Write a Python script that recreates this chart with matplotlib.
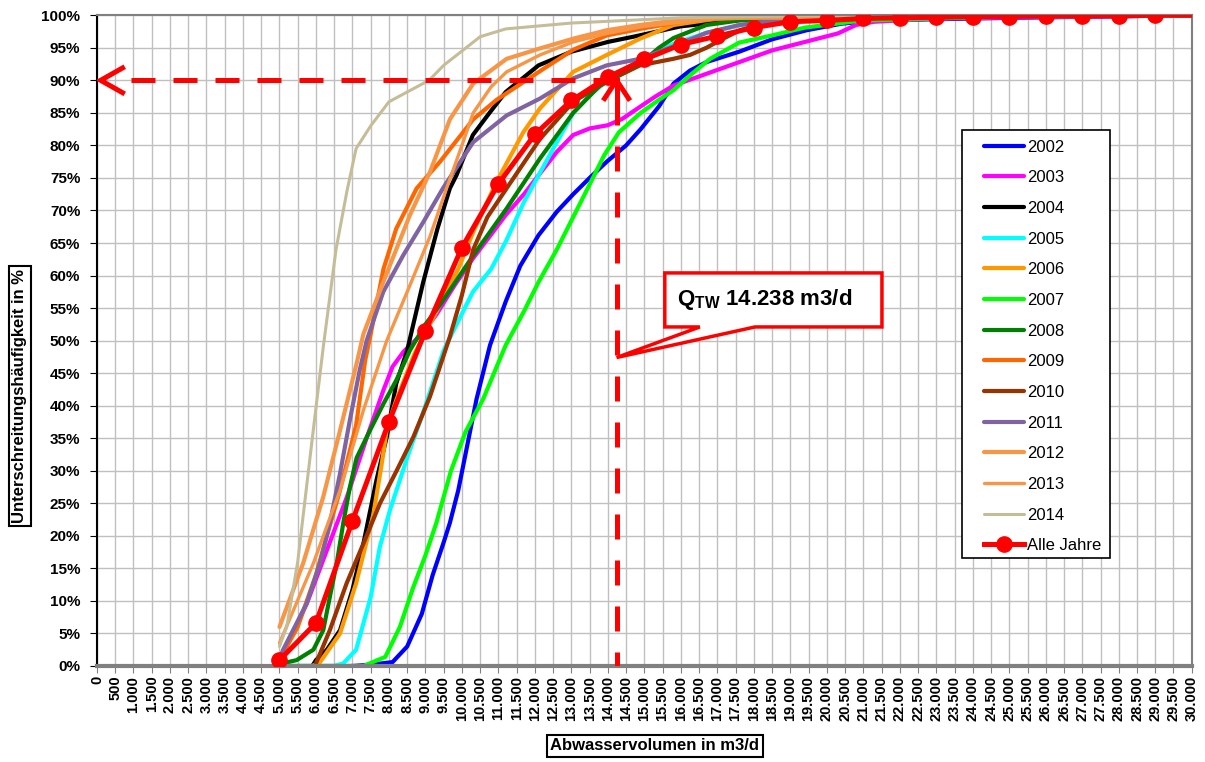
import matplotlib
matplotlib.use("Agg")
import matplotlib.pyplot as plt
from matplotlib.patches import Polygon, Rectangle

plt.rcParams['font.family'] = ['Liberation Sans', 'DejaVu Sans']
plt.rcParams['mathtext.fontset'] = 'custom'
plt.rcParams['mathtext.rm'] = 'Liberation Sans:bold'
plt.rcParams['mathtext.it'] = 'Liberation Sans:bold'
plt.rcParams['mathtext.bf'] = 'Liberation Sans:bold'

# ---- data (Abwasservolumen in m3/d, Unterschreitungshaeufigkeit in %) ----
x_2002 = [5000, 7000, 7500, 8100, 8500, 8900, 9200, 9500, 9670, 9900, 10150, 10400, 10770, 11200,
          11600, 12100, 12600, 13050, 13500, 13970, 14500, 14900, 15400, 15800, 16250, 16700,
          17600, 18500, 19450, 20400, 21300, 25000, 30000]
y_2002 = [0, 0, 0.2, 0.6, 3, 8, 14, 19, 22, 27, 34, 41, 49.3, 56, 61.5, 66.2, 69.8, 72.5, 75, 77.5,
          80, 82.5, 86, 89.5, 91.5, 92.8, 94.4, 96.3, 97.7, 98.7, 99.2, 99.6, 100]

x_2003 = [5000, 5150, 5750, 6300, 6850, 7400, 7850, 8100, 8400, 8900, 9300, 9800, 10300, 10800,
          11200, 11700, 12100, 12600, 13050, 13500, 14000, 14400, 14900, 15300, 15800, 16700,
          17600, 18500, 19400, 20300, 20800, 21300, 23000, 30000]
y_2003 = [0.5, 2.5, 9.6, 17.8, 26, 35.2, 42.4, 46, 48.3, 51, 54, 58.5, 62.6, 66.3, 69.3, 72.5,
          75.4, 79, 81.6, 82.6, 83.1, 84.1, 86, 87.5, 89.2, 91, 92.8, 94.6, 95.9, 97.2, 98.5,
          99, 99.5, 100]

x_2004 = [5900, 6000, 6300, 6660, 7000, 7300, 7660, 7940, 8200, 8500, 8940, 9330, 9670, 9850,
          10300, 10770, 11200, 12100, 13000, 14000, 14700, 16000, 18000, 20000, 30000]
y_2004 = [0, 0.9, 2.5, 5.5, 11.7, 18.8, 28.6, 35.2, 43.4, 48.5, 59, 67.2, 73.4, 75.4, 81.6, 85.1,
          88.2, 92.3, 94.4, 95.9, 96.7, 98.3, 99.5, 100, 100]

x_2005 = [5000, 6500, 6750, 7100, 7500, 7750, 8030, 8500, 8940, 9500, 10300, 10800, 11200, 11700,
          12100, 12600, 13050, 13500, 14000, 14900, 15800, 16700, 17600, 18500, 20000, 23000, 30000]
y_2005 = [0, 0, 0.4, 2.5, 10.6, 18.3, 24, 32, 39, 48.5, 57.5, 61, 65.2, 71.3, 75.4, 80.5, 85,
          87.7, 90, 93.3, 95.6, 97.3, 98.4, 99, 99.6, 100, 100]

x_2006 = [5900, 6100, 6660, 7100, 7570, 7800, 7950, 8210, 8700, 9400, 9900, 10310, 10950, 11680,
          12140, 13050, 13970, 14880, 15800, 17000, 20000, 30000]
y_2006 = [0, 0.5, 5, 12.7, 23.2, 31, 36.7, 41, 48, 55.5, 61, 66.7, 74.4, 82, 85.7, 91.3, 93.9,
          96.4, 98.5, 99.5, 100, 100]

x_2007 = [5000, 7300, 7900, 8300, 8660, 9000, 9300, 9700, 10100, 10580, 11200, 11700, 12100, 12600,
          13050, 13500, 13900, 14300, 14900, 15400, 15800, 16300, 16800, 17600, 18500, 19400,
          20400, 21000, 25000, 30000]
y_2007 = [0, 0, 1.4, 6, 12, 17, 22, 30, 36, 41, 49.3, 54.5, 59, 64, 69, 74, 78.5, 82, 85, 87,
          88.5, 91, 93.3, 95.8, 96.9, 98.1, 98.8, 99.2, 99.8, 100]

x_2008 = [5000, 5470, 5930, 6200, 6380, 6570, 6750, 6930, 7115, 7480, 7850, 8210, 8575, 9000,
          9400, 10300, 11225, 12140, 13050, 13780, 14880, 15400, 15800, 16700, 17600, 20000, 30000]
y_2008 = [0.3, 0.9, 2.5, 5.5, 10.6, 15.8, 22, 27.5, 32, 36.2, 40.3, 44, 48.5, 52.5, 55.5, 63,
          70.3, 78, 85, 89.2, 92.5, 95, 96.5, 98.5, 99.2, 99.8, 100]

x_2009 = [5000, 5500, 6000, 6300, 6660, 7100, 7350, 7500, 7850, 8200, 8760, 9400, 10310, 10950,
          12300, 13050, 13970, 14880, 16250, 18000, 30000]
y_2009 = [1, 6, 14, 20, 27, 37, 47, 51, 61, 67.2, 73.4, 77.5, 84, 87, 92, 94.7, 96.9, 97.9,
          99.2, 99.7, 100]

x_2010 = [6000, 6380, 6840, 7300, 7755, 8210, 8670, 9124, 9670, 10000, 10310, 10700, 11225, 12140,
          13050, 13970, 14880, 15790, 16250, 16700, 17160, 17620, 18530, 20000, 30000]
y_2010 = [0.4, 5.5, 12.7, 18.8, 25, 30, 35.2, 41.4, 50.6, 57, 64, 69, 73.4, 81, 86.7, 89.8, 92.3,
          93.3, 93.9, 95, 96.4, 97.7, 99, 99.6, 100]

x_2011 = [5000, 5100, 5745, 6110, 6380, 6660, 6930, 7200, 7390, 7845, 8390, 8940, 9490, 10310,
          11225, 12140, 13050, 13970, 14880, 15790, 16700, 17600, 19000, 30000]
y_2011 = [1, 2.5, 9.6, 15.8, 21.9, 29.6, 37.8, 45.5, 50, 57.5, 63.1, 68.2, 73.5, 80.5, 84.6, 87.2,
          90.3, 92.3, 93.3, 95.2, 97.3, 98.5, 99.5, 100]

x_2012 = [5000, 5650, 6200, 6660, 7115, 7300, 7845, 8575, 9124, 9400, 9670, 10310, 11225, 12140,
          13050, 13970, 14880, 16000, 18000, 30000]
y_2012 = [6, 15.8, 26, 36.2, 46.5, 51, 59, 69.3, 75.9, 80, 84, 89.5, 93.3, 94.9, 96.4, 97.7,
          98.5, 99.3, 99.8, 100]

x_2013 = [5000, 5930, 6660, 7300, 7940, 8575, 9124, 9580, 10000, 10310, 10800, 11225, 12140,
          13050, 13970, 15000, 17000, 30000]
y_2013 = [3.5, 15.8, 27, 39.3, 50, 58.5, 66, 73.4, 80, 85, 89, 91.3, 93.9, 95.9, 97.2, 98.3,
          99.5, 100]

x_2014 = [5000, 5200, 5500, 5900, 6200, 6550, 6850, 7100, 7500, 8000, 8600, 9100, 9500, 10000,
          10500, 11200, 13000, 16000, 20000, 30000]
y_2014 = [3, 6, 16, 35, 49, 64, 73, 79.5, 83, 86.7, 88.5, 90, 92.3, 94.5, 96.7, 97.9, 98.8, 99.6,
          100, 100]

x_alle = list(range(5000, 30001, 1000))
y_alle = [0.9, 6.6, 22.3, 37.5, 51.5, 64.3, 74.1, 81.7, 86.9, 90.5, 93.2, 95.5, 96.8, 98.1, 99.0,
          99.2, 99.5, 99.6, 99.7, 99.8, 99.8, 99.9, 99.9, 99.9, 100, 100]

years = ['2002', '2003', '2004', '2005', '2006', '2007', '2008', '2009', '2010', '2011', '2012',
         '2013', '2014']
xs = [x_2002, x_2003, x_2004, x_2005, x_2006, x_2007, x_2008, x_2009, x_2010, x_2011, x_2012,
      x_2013, x_2014]
ys = [y_2002, y_2003, y_2004, y_2005, y_2006, y_2007, y_2008, y_2009, y_2010, y_2011, y_2012,
      y_2013, y_2014]
colors = ['#0000FF', '#FF00FF', '#000000', '#00FFFF', '#FF9900', '#00FF00', '#008000', '#FF6600',
          '#993300', '#8064A2', '#F79646', '#F79646', '#C4BD97']
widths = [3.0, 3.0, 3.0, 3.0, 3.0, 3.0, 3.0, 3.0, 3.0, 3.0, 3.0, 2.4, 2.2]

q_tw = 14238
q_level = 90

fig = plt.figure(figsize=(12.05, 7.62), dpi=100)
ax = fig.add_axes([0.0805, 0.126, 0.9085, 0.854])

for x, y, c, w, lab in zip(xs, ys, colors, widths, years):
    ax.plot(x, y, color=c, lw=w, label=lab, solid_joinstyle='round', solid_capstyle='round')
ax.plot(x_alle, y_alle, color='#FF0000', lw=3.6, marker='o', markersize=11,
        markevery=slice(0, -1), label='Alle Jahre', zorder=5)

# Q_TW guide lines
red = '#FF0000'
ax.plot([q_tw, 700], [q_level, q_level], color=red, lw=3.6, dashes=(4.8, 3.6), zorder=6)
ax.plot([700, 100, 700], [q_level + 1.9, q_level, q_level - 1.9], color=red, lw=3.6, zorder=6,
        solid_joinstyle='miter')
ax.plot([q_tw, q_tw], [q_level - 3, 0], color=red, lw=3.6, dashes=(5.0, 4.2), zorder=6)
ax.plot([q_tw - 330, q_tw, q_tw + 330], [q_level - 2.8, q_level, q_level - 2.8], color=red,
        lw=3.6, zorder=6)
ax.plot([q_tw, q_tw], [q_level, q_level - 3], color=red, lw=3.6, zorder=6)

# callout
callout = Polygon([[15560, 52.1], [16520, 52.1], [q_tw, 47.4], [18030, 52.1], [21510, 52.1],
                   [21510, 60.4], [15560, 60.4]], closed=True, facecolor='white',
                  edgecolor=red, lw=2.5, zorder=7)
ax.add_patch(callout)
ax.text(15900, 56.3, r'Q$_{\mathrm{TW}}$ 14.238 m3/d', fontsize=16, fontweight='bold',
        ha='left', va='center', zorder=8)

ax.set_xlim(0, 30000)
ax.set_ylim(0, 100)
xticks = list(range(0, 30001, 500))
ax.set_xticks(xticks)
ax.set_xticklabels([f'{v:,}'.replace(',', '.') for v in xticks], rotation=90, fontsize=10.5,
                   fontweight='bold')
yticks = list(range(0, 101, 5))
ax.set_yticks(yticks)
ax.set_yticklabels([f'{v}%' for v in yticks], fontsize=11, fontweight='bold')
ax.grid(True, color='#C0C0C0', lw=1)
ax.set_axisbelow(True)
ax.tick_params(axis='x', direction='out', length=5, color='#808080', pad=2)
ax.tick_params(axis='y', direction='out', length=5, color='black', pad=7)
for s in ['top', 'right']:
    ax.spines[s].set_color('#808080')
    ax.spines[s].set_linewidth(1.5)
ax.spines['bottom'].set_color('#808080')
ax.spines['bottom'].set_linewidth(3)
ax.spines['left'].set_color('black')
ax.spines['left'].set_linewidth(1.5)

# legend: own frame, entries placed inside
ax.add_patch(Rectangle((0.790, 0.166), 0.135, 0.657, transform=ax.transAxes, facecolor='white',
                       edgecolor='black', lw=1.2, zorder=9))
leg = ax.legend(loc='upper left', bbox_to_anchor=(0.8105, 0.809), fontsize=12, frameon=False,
                borderpad=0, labelspacing=0.94, handlelength=2.4, handletextpad=0.15,
                borderaxespad=0)
leg.set_zorder(10)

box = dict(boxstyle='square,pad=0.2', facecolor='white', edgecolor='black', lw=1.5)
fig.text(20 / 1205, 1 - 396 / 762, 'Unterschreitungshäufigkeit in %', rotation=90, fontsize=12,
         fontweight='bold', ha='center', va='center', bbox=box)
fig.text(655 / 1205, 1 - 746 / 762, 'Abwasservolumen in m3/d', fontsize=12, fontweight='bold',
         ha='center', va='center', bbox=box)

fig.savefig('out.png', dpi=100)
